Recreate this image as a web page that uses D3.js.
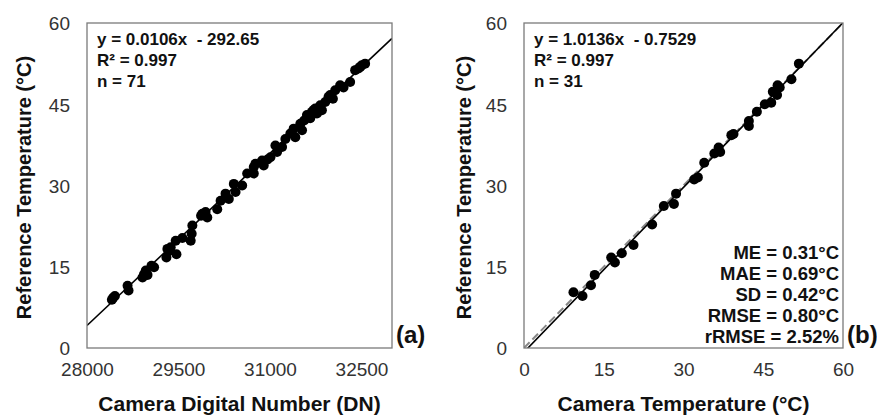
<!DOCTYPE html>
<html>
<head>
<meta charset="utf-8">
<script src="https://cdn.jsdelivr.net/npm/d3@7"></script>
<style>
  html, body { margin: 0; padding: 0; background: #fff; }
  svg { display: block; font-family: "Liberation Sans", Arial, sans-serif; }
</style>
</head>
<body>
<svg id="chart" width="877" height="417"></svg>
<script>
// ---------------- Data ----------------
// Panel (a): Camera Digital Number vs Reference Temperature
const dnValues = [28408, 28430, 28457, 28665, 28681, 28910, 28935, 28964, 28992, 29057,
  29100, 29302, 29318, 29340, 29372, 29466, 29454, 29564, 29700, 29716,
  29727, 29870, 29891, 29944, 29972, 30135, 30190, 30271, 30325, 30407,
  30435, 30544, 30626, 30734, 30734, 30761, 30870, 30897, 30960, 31007,
  31089, 31116, 31198, 31252, 31334, 31388, 31415, 31497, 31525, 31560,
  31606, 31660, 31688, 31720, 31742, 31770, 31824, 31851, 31906, 31960,
  31987, 32031, 32069, 32150, 32205, 32314, 32396, 32450, 32480, 32505, 32559];
const refTempA = [8.9, 9.3, 9.6, 11.5, 10.6, 13.0, 13.6, 14.3, 13.5, 15.2,
  14.9, 16.7, 18.3, 17.9, 18.6, 17.3, 19.8, 20.3, 19.8, 21.1,
  22.6, 24.4, 24.8, 25.1, 24.1, 25.6, 27.2, 28.5, 27.5, 30.3,
  28.8, 30.0, 32.2, 32.2, 33.4, 34.0, 34.6, 33.7, 34.8, 35.2,
  37.4, 36.2, 37.1, 38.6, 39.6, 40.5, 38.9, 41.4, 40.2, 42.0,
  43.0, 42.4, 43.6, 44.0, 44.2, 43.3, 44.8, 43.9, 45.4, 46.4,
  46.7, 46.0, 47.6, 48.5, 48.1, 49.1, 51.3, 51.6, 51.9, 52.2, 52.5];
const fitA = { slope: 0.0106, intercept: -292.65 };
const annotA = ["y = 0.0106x  - 292.65", "R² = 0.997", "n = 71"];
const xTicksA = [28000, 29500, 31000, 32500];
const xDomainA = [28000, 33000];

// Panel (b): Camera Temperature vs Reference Temperature
const camTemp = [9.3, 11.0, 12.6, 13.3, 16.4, 17.1, 18.4, 20.6, 24.1, 26.3,
  28.2, 28.6, 32.0, 32.7, 33.9, 35.8, 36.6, 36.9, 39.0, 39.4,
  42.3, 42.3, 43.8, 45.3, 46.5, 46.8, 47.6, 47.7, 48.1, 50.3, 51.7];
const refTempB = [10.3, 9.6, 11.6, 13.5, 16.7, 15.8, 17.5, 19.0, 22.8, 26.2,
  26.6, 28.5, 31.1, 31.5, 34.2, 35.9, 37.0, 36.2, 39.3, 39.5,
  41.0, 41.9, 43.6, 45.0, 45.3, 47.3, 46.7, 48.5, 48.1, 49.6, 52.5];
const fitB = { slope: 1.0136, intercept: -0.7529 };
const annotB = ["y = 1.0136x  - 0.7529", "R² = 0.997", "n = 31"];
const statsB = ["ME = 0.31°C", "MAE = 0.69°C", "SD = 0.42°C", "RMSE = 0.80°C", "rRMSE = 2.52%"];
const xTicksB = [0, 15, 30, 45, 60];
const xDomainB = [0, 60];

const yTicks = [0, 15, 30, 45, 60];
const yDomain = [0, 60];

// ---------------- Drawing ----------------
const svg = d3.select("#chart");
const FONT = "Liberation Sans, Arial, sans-serif";

function panel(opts) {
  const { left, right, top, bottom } = opts;
  const g = svg.append("g");
  const x = d3.scaleLinear().domain(opts.xDomain).range([left, right]);
  const y = d3.scaleLinear().domain(yDomain).range([bottom, top]);

  const clipId = "clip" + opts.id;
  svg.append("defs").append("clipPath").attr("id", clipId)
    .append("rect").attr("x", left).attr("y", top)
    .attr("width", right - left).attr("height", bottom - top);

  // y axis tick labels
  const yAxis = d3.axisLeft(y).tickValues(yTicks).tickSize(0).tickPadding(0)
    .tickFormat(d3.format("d"));
  const ya = g.append("g").attr("transform", `translate(${left - 17},0)`).call(yAxis);
  ya.select(".domain").remove();
  ya.selectAll("text").attr("font-size", 19).attr("fill", "#333")
    .attr("font-family", FONT).attr("dy", "0.36em");

  // x axis tick labels
  const xAxis = d3.axisBottom(x).tickValues(opts.xTicks).tickSize(0).tickPadding(0)
    .tickFormat(d3.format("d"));
  const xa = g.append("g").attr("transform", `translate(0,${bottom + 14})`).call(xAxis);
  xa.select(".domain").remove();
  xa.selectAll("text").attr("font-size", 19).attr("fill", "#333")
    .attr("font-family", FONT).attr("dy", "0.71em");

  const plot = g.append("g").attr("clip-path", `url(#${clipId})`);

  if (opts.oneToOne) {
    plot.append("line")
      .attr("x1", x(0)).attr("y1", y(0)).attr("x2", x(60)).attr("y2", y(60))
      .attr("stroke", "#888").attr("stroke-width", 2).attr("stroke-dasharray", "8,4");
  }

  // regression line
  const xd = opts.xDomain;
  plot.append("line")
    .attr("x1", x(xd[0])).attr("y1", y(opts.fit.slope * xd[0] + opts.fit.intercept))
    .attr("x2", x(xd[1])).attr("y2", y(opts.fit.slope * xd[1] + opts.fit.intercept))
    .attr("stroke", "#000").attr("stroke-width", 1.6);

  // points
  plot.selectAll("circle").data(opts.xs.map((v, i) => [v, opts.ys[i]])).join("circle")
    .attr("cx", d => x(d[0])).attr("cy", d => y(d[1])).attr("r", 5)
    .attr("fill", "#000");

  // frame
  g.append("rect").attr("x", left).attr("y", top)
    .attr("width", right - left).attr("height", bottom - top)
    .attr("fill", "none").attr("stroke", "#7a7a7a").attr("stroke-width", 1.3);

  // annotation top-left
  g.append("g").selectAll("text").data(opts.annot).join("text")
    .attr("x", left + 10).attr("y", (d, i) => top + 22 + i * 21)
    .attr("font-size", 17).attr("font-weight", "bold").attr("fill", "#111")
    .attr("xml:space", "preserve")
    .text(d => d);

  // axis titles
  g.append("text")
    .attr("transform", `translate(${opts.yTitleX},${(top + bottom) / 2 + 2}) rotate(-90)`)
    .attr("text-anchor", "middle").attr("dy", "0.36em")
    .attr("font-size", 20).attr("font-weight", "bold").attr("fill", "#111")
    .text("Reference Temperature (°C)");
  g.append("text")
    .attr("x", (left + right) / 2).attr("y", 411)
    .attr("text-anchor", "middle")
    .attr("font-size", 21).attr("font-weight", "bold").attr("fill", "#111")
    .text(opts.xTitle);

  // panel label
  g.append("text")
    .attr("x", right + 4).attr("y", 334).attr("dy", "0.36em")
    .attr("font-size", 24).attr("font-weight", "bold").attr("fill", "#111")
    .text(opts.label);

  return { g, x, y };
}

panel({
  id: "a", left: 87, right: 392, top: 23, bottom: 348,
  xDomain: xDomainA, xTicks: xTicksA, xs: dnValues, ys: refTempA,
  fit: fitA, annot: annotA, yTitleX: 24,
  xTitle: "Camera Digital Number (DN)", label: "(a)"
});

const pb = panel({
  id: "b", left: 524, right: 843, top: 23, bottom: 348,
  xDomain: xDomainB, xTicks: xTicksB, xs: camTemp, ys: refTempB,
  fit: fitB, annot: annotB, yTitleX: 464, oneToOne: true,
  xTitle: "Camera Temperature (°C)", label: "(b)"
});

pb.g.append("g").selectAll("text").data(statsB).join("text")
  .attr("x", 839).attr("y", (d, i) => 252 + i * 21).attr("dy", "0.36em")
  .attr("text-anchor", "end")
  .attr("font-size", 18.5).attr("font-weight", "bold").attr("fill", "#111")
  .text(d => d);
</script>
</body>
</html>
